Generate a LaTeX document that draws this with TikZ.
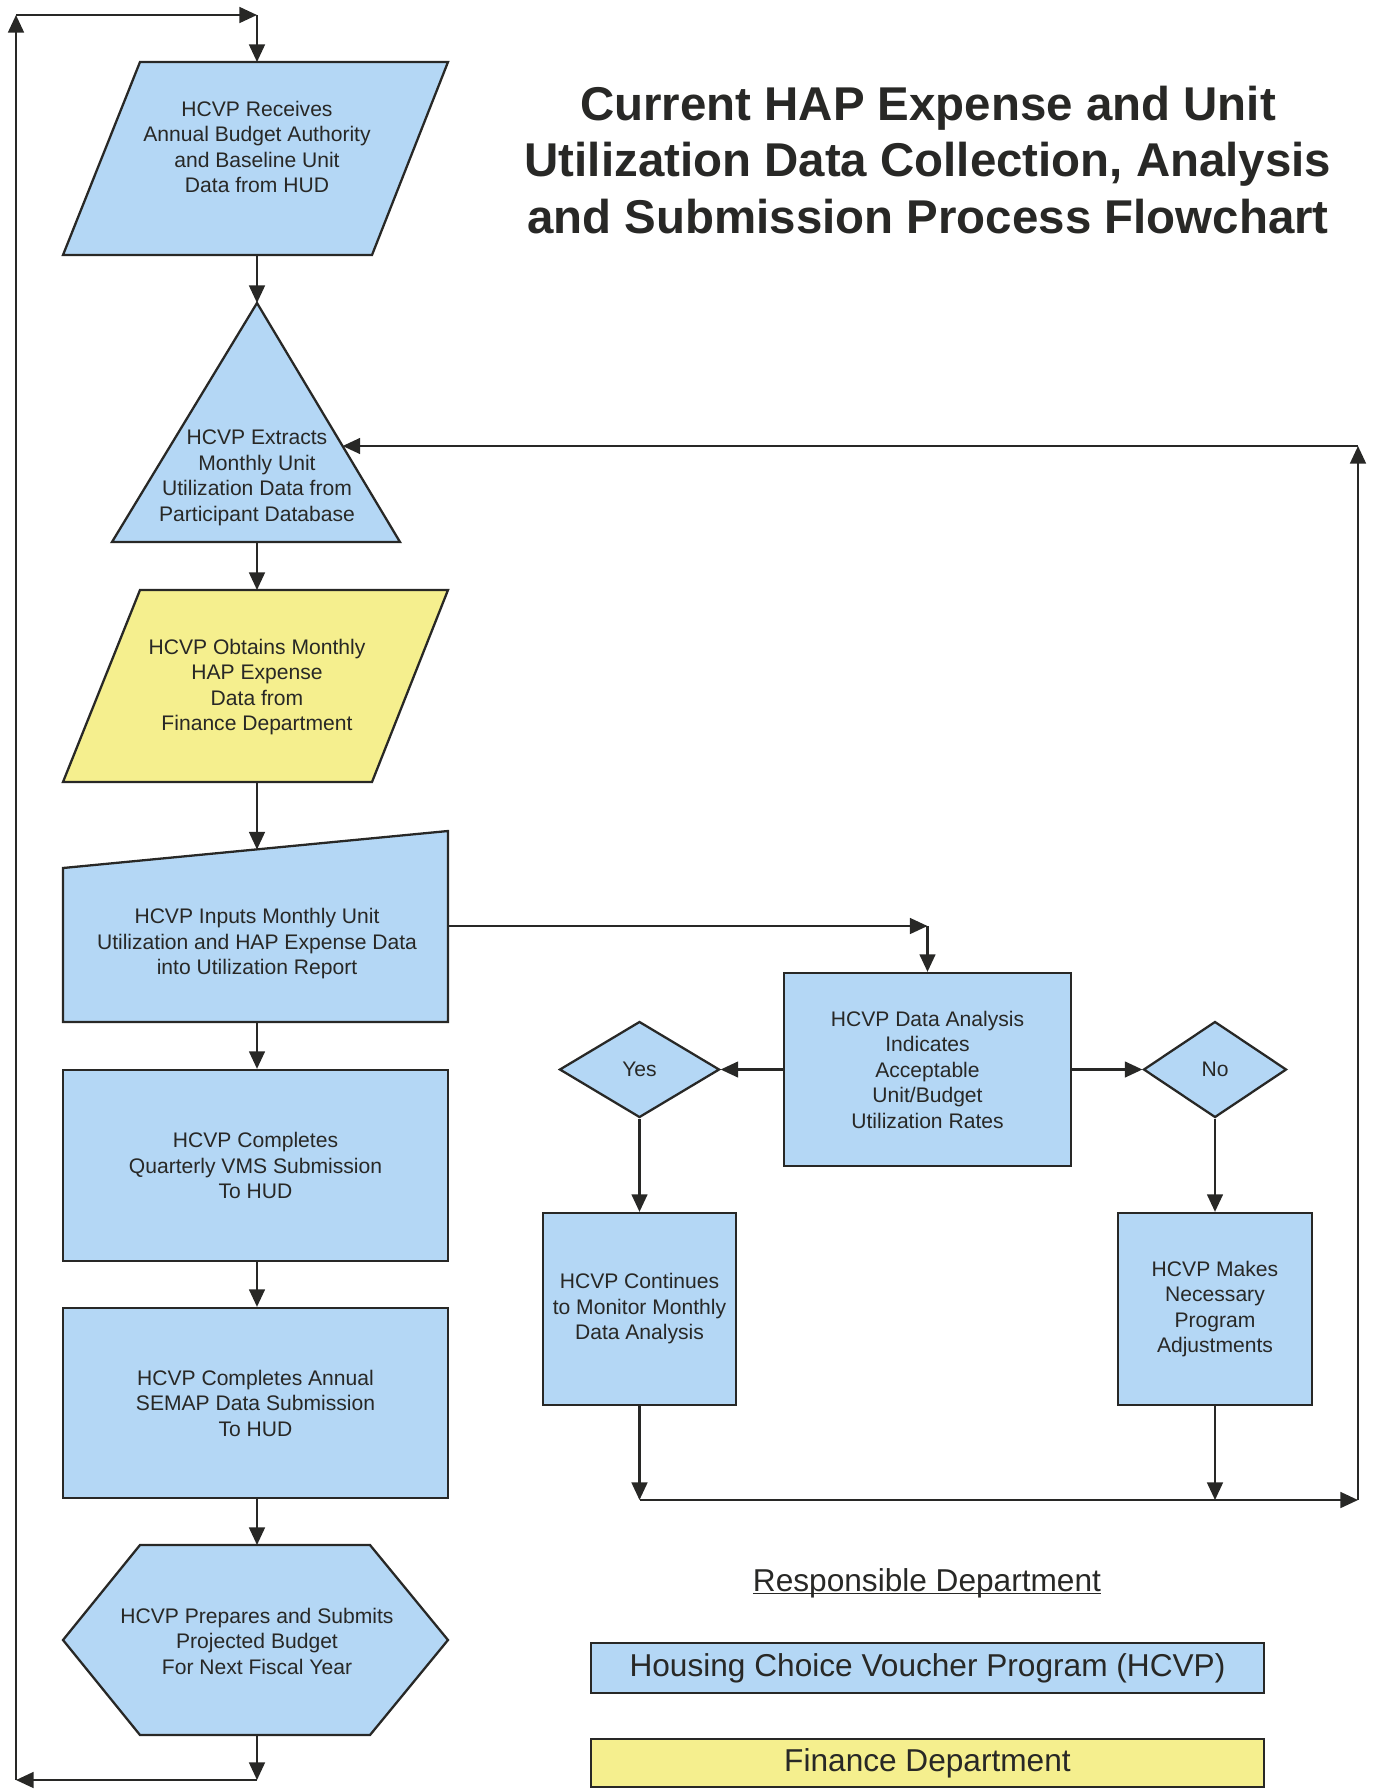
\documentclass[tikz,border=0pt]{standalone}
\usepackage{fontspec}
\setmainfont{Liberation Sans}
\usepackage{tikz}
\usetikzlibrary{arrows.meta,shapes.geometric}

\definecolor{hcvpblue}{RGB}{180,215,245}
\definecolor{finyellow}{RGB}{245,239,142}
\definecolor{ink}{RGB}{40,40,38}
\newcommand{\pxu}{0.02cm}

\tikzset{
  outline/.style={draw=ink, line width=1.3pt},
  flowtext/.style={align=center, text=ink, font=\fontsize{12}{14.5}\selectfont},
  arr/.style={draw=ink, line width=1.2pt, -{Triangle[length=10pt,width=9pt]}},
  procbox/.style={outline, fill=hcvpblue, rectangle, inner sep=0pt, flowtext},
  decision/.style={outline, fill=hcvpblue, diamond, inner sep=0pt, aspect=1.5, flowtext},
  legendbox/.style={outline, rectangle, inner sep=0pt, text=ink,
    minimum width=673*\pxu, font=\fontsize{18}{22}\selectfont},
}

\begin{document}
\begin{tikzpicture}[x=0.02cm, y=-0.02cm]
    \useasboundingbox (0,0) rectangle (1373,1789);

    % Title
    \node[align=center, text=ink, font=\fontsize{27}{32.3}\selectfont\bfseries] (title) at (928,160)
        {Current HAP Expense and Unit\\Utilization Data Collection, Analysis\\and Submission Process Flowchart};

    % Main column
    \draw[outline, fill=hcvpblue] (140,62) -- (448,62) -- (372,255) -- (63,255) -- cycle;
    \node[flowtext] (receive) at (257,147) {HCVP Receives\\Annual Budget Authority\\and Baseline Unit\\Data from HUD};
    \coordinate (receive-top) at (257,62);
    \coordinate (receive-bot) at (257,255);

    \draw[outline, fill=hcvpblue] (257,303) -- (400,542) -- (112,542) -- cycle;
    \node[flowtext] (extract) at (257,478) {HCVP Extracts\\Monthly Unit\\Utilization Data from\\Participant Database};
    \coordinate (extract-top) at (257,303);
    \coordinate (extract-bot) at (257,542);
    \coordinate (extract-edge) at (342.6,446);

    \draw[outline, fill=finyellow] (140,590) -- (448,590) -- (372,782) -- (63,782) -- cycle;
    \node[flowtext] (obtain) at (257,687) {HCVP Obtains Monthly\\HAP Expense\\Data from\\Finance Department};
    \coordinate (obtain-top) at (257,590);
    \coordinate (obtain-bot) at (257,782);

    \draw[outline, fill=hcvpblue] (63,868) -- (448,831) -- (448,1022) -- (63,1022) -- cycle;
    \node[flowtext] (inputs) at (257,944) {HCVP Inputs Monthly Unit\\Utilization and HAP Expense Data\\into Utilization Report};
    \coordinate (inputs-top) at (257,849.5);
    \coordinate (inputs-right) at (448,926);
    \coordinate (inputs-bot) at (257,1022);

    \node[procbox, minimum width=385*\pxu, minimum height=191*\pxu] (vms) at (255.5,1165.5)
        {HCVP Completes\\Quarterly VMS Submission\\To HUD};
    \node[procbox, minimum width=385*\pxu, minimum height=190*\pxu] (semap) at (255.5,1403)
        {HCVP Completes Annual\\SEMAP Data Submission\\To HUD};

    \draw[outline, fill=hcvpblue] (140,1545) -- (370,1545) -- (448,1640) -- (370,1735) -- (140,1735) -- (63,1640) -- cycle;
    \node[flowtext] (budget) at (257,1641) {HCVP Prepares and Submits\\Projected Budget\\For Next Fiscal Year};
    \coordinate (budget-top) at (257,1545);
    \coordinate (budget-bot) at (257,1735);

    \draw[arr] (receive-bot) -- (extract-top);
    \draw[arr] (extract-bot) -- (obtain-top);
    \draw[arr] (obtain-bot) -- (inputs-top);
    \draw[arr] (inputs-bot) -- (vms.north -| inputs-bot);
    \draw[arr] (vms.south -| inputs-bot) -- (semap.north -| inputs-bot);
    \draw[arr] (semap.south -| inputs-bot) -- (budget-top);

    % Loop back to the start
    \coordinate (loop-bot) at (257,1780);
    \coordinate (loop-bl) at (16,1780);
    \coordinate (loop-tl) at (16,15);
    \coordinate (loop-tr) at (257,15);
    \draw[arr] (budget-bot) -- (loop-bot);
    \draw[arr] (loop-bot) -- (loop-bl);
    \draw[arr] (loop-bl) -- (loop-tl);
    \draw[arr] (loop-tl) -- (loop-tr);
    \draw[arr] (loop-tr) -- (receive-top);

    % Analysis branch
    \node[procbox, minimum width=287*\pxu, minimum height=193*\pxu] (analysis) at (927.5,1069.5)
        {HCVP Data Analysis\\Indicates\\Acceptable\\Unit/Budget\\Utilization Rates};
    \node[decision, minimum width=160*\pxu, minimum height=96*\pxu] (yes) at (639.5,1069.5) {Yes};
    \node[decision, minimum width=143*\pxu, minimum height=96*\pxu] (no) at (1215,1069.5) {No};
    \node[procbox, minimum width=193*\pxu, minimum height=192*\pxu] (continue) at (639.5,1309)
        {HCVP Continues\\to Monitor Monthly\\Data Analysis};
    \node[procbox, minimum width=194*\pxu, minimum height=192*\pxu] (adjust) at (1215,1309)
        {HCVP Makes\\Necessary\\Program\\Adjustments};

    \coordinate (feed-turn) at (927.5,926);
    \draw[arr] (inputs-right) -- (feed-turn);
    \draw[arr] (feed-turn) -- (analysis.north);
    \draw[arr] (analysis.west) -- (yes.east);
    \draw[arr] (analysis.east) -- (no.west);
    \draw[arr] (yes.south) -- (continue.north);
    \draw[arr] (no.south) -- (adjust.north);

    % Return to extraction
    \coordinate (merge-l) at (639.5,1500);
    \coordinate (merge-m) at (1215,1500);
    \coordinate (merge-r) at (1358,1500);
    \coordinate (back-top) at (1358,446);
    \draw[arr] (continue.south) -- (merge-l);
    \draw[arr] (adjust.south) -- (merge-m);
    \draw[arr] (merge-l) -- (merge-r);
    \draw[arr] (merge-r) -- (back-top);
    \draw[arr] (back-top) -- (extract-edge);

    % Legend
    \node[text=ink, font=\fontsize{18}{22}\selectfont] (legend-head) at (927,1593) {\underline{\smash{Responsible Department}}};
    \node[legendbox, fill=hcvpblue, minimum height=50*\pxu] (legend-hcvp) at (927.5,1668) {Housing Choice Voucher Program (HCVP)};
    \node[legendbox, fill=finyellow, minimum height=48*\pxu] (legend-fin) at (927.5,1763) {Finance Department};
\end{tikzpicture}
\end{document}
